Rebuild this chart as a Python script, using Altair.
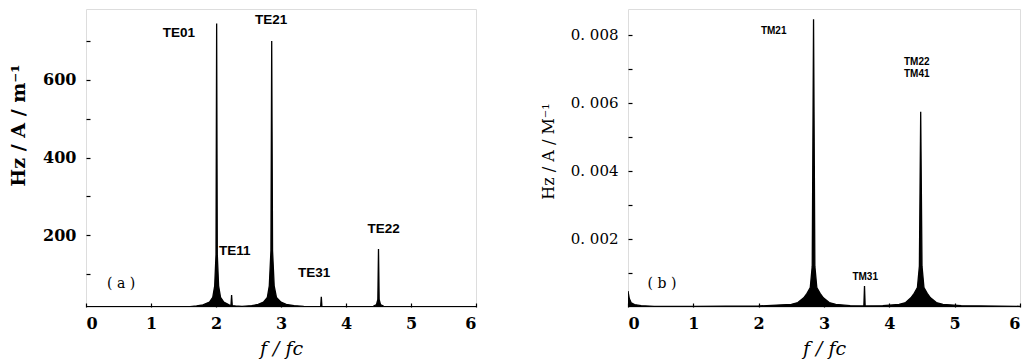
import altair as alt
import pandas as pd

# ---------------- panel (a): TE modes ----------------
a_f = [0.0, 0.8, 1.5, 1.6, 1.7, 1.8, 1.9, 1.95, 1.98, 2.0, 2.01, 2.02, 2.04, 2.07, 2.12,
       2.2, 2.23, 2.24, 2.25, 2.3, 2.4, 2.55, 2.65, 2.73, 2.79, 2.82, 2.845, 2.857,
       2.87, 2.895, 2.93, 3.0, 3.08, 3.2, 3.35, 3.5, 3.61, 3.62, 3.63, 4.0, 4.42,
       4.47, 4.49, 4.50, 4.51, 4.53, 4.58, 5.0, 6.0]
a_hz = [16, 16, 16, 16, 18, 21, 28, 40, 70, 150, 745, 150, 70, 40, 28,
        21, 19, 46, 19, 18, 17, 19, 22, 28, 40, 70, 160, 700,
        160, 70, 40, 28, 22, 19, 17, 16, 16, 42, 16, 16, 17,
        22, 35, 165, 35, 22, 17, 16, 16]

a_lab = ["TE01", "TE21", "TE11", "TE31", "TE22"]
a_lab_f = [1.43, 2.85, 2.29, 3.51, 4.58]
a_lab_hz = [721, 754, 160, 103, 216]

# ---------------- panel (b): TM modes ----------------
b_f = [0.0, 0.02, 0.05, 0.1, 0.2, 0.4, 1.0, 2.0, 2.5, 2.6, 2.69, 2.74, 2.79, 2.82,
       2.84, 2.86, 2.89, 2.94, 2.99, 3.08, 3.18, 3.4, 3.61, 3.62, 3.63, 3.9,
       4.15, 4.25, 4.33, 4.38, 4.43, 4.46, 4.48, 4.50, 4.53, 4.58, 4.63, 4.72,
       4.82, 5.1, 6.0]
b_hz = [0.00047, 0.00025, 0.00012, 0.00007, 0.00004, 0.00002, 0.00002, 0.00003,
        0.00008, 0.00013, 0.00027, 0.0004, 0.00057, 0.0012,
        0.00846, 0.0012, 0.00057, 0.0004, 0.00027, 0.00013, 0.00008, 0.00004,
        0.00003, 0.00062, 0.00003, 0.00004,
        0.00008, 0.00013, 0.00027, 0.0004, 0.00057, 0.0012, 0.00574, 0.0012,
        0.00057, 0.0004, 0.00027, 0.00013, 0.00008, 0.00004, 0.00002]

b_lab = ["TM21", "TM22", "TM41", "TM31"]
b_lab_f = [2.23, 4.42, 4.42, 3.63]
b_lab_hz = [0.00812, 0.00719, 0.00684, 0.00088]

x_ticks = [0, 1, 2, 3, 4, 5, 6]
a_y_ticks = [100, 200, 300, 400, 500, 600, 700]
b_y_ticks = [0.001, 0.002, 0.003, 0.004, 0.005, 0.006, 0.007, 0.008]

SERIF = "DejaVu Serif"
SANS = "Liberation Sans"


def x_axis():
    return alt.Axis(values=x_ticks, format="d", title="f / fc",
                    titleFont=SERIF, titleFontStyle="italic", titleFontWeight="normal",
                    titleFontSize=19, titleColor="black", titlePadding=8,
                    labelFont=SERIF, labelFontWeight="bold", labelFontSize=16,
                    labelColor="black", labelPadding=8,
                    offset=-4, tickSize=4, tickColor="black", tickWidth=1.2,
                    domain=False, grid=False)


def panel(f, hz, lab, lab_f, lab_hz, tag, tag_f, tag_hz, ydom, yticks, ylabexpr,
          ytitle, ytitle_size, ytitle_weight, ylab_size, ylab_weight, ytitle_y,
          ytitle_pad, lab_size, width, height):
    df = pd.DataFrame({"f": f, "hz": hz})
    ldf = pd.DataFrame({"t": lab, "f": lab_f, "hz": lab_hz})
    tdf = pd.DataFrame({"t": [tag], "f": [tag_f], "hz": [tag_hz]})
    xs = alt.Scale(domain=[0, 6], nice=False, zero=False)
    ys = alt.Scale(domain=ydom, nice=False, zero=False)
    yax = alt.Axis(values=yticks, labelExpr=ylabexpr, title=ytitle,
                   titleFont=SERIF, titleFontWeight=ytitle_weight, titleFontSize=ytitle_size,
                   titleColor="black", titleY=ytitle_y, titlePadding=ytitle_pad,
                   labelFont=SERIF, labelFontWeight=ylab_weight, labelFontSize=ylab_size,
                   labelColor="black", labelPadding=10,
                   offset=-4, tickSize=4, tickColor="black", tickWidth=1.2,
                   domain=False, grid=False)
    curve = alt.Chart(df).mark_area(color="black", opacity=1, fillOpacity=1,
                                    line={"color": "black", "strokeWidth": 1.3},
                                    clip=True, interpolate="linear").encode(
        x=alt.X("f:Q", scale=xs, axis=x_axis()),
        y=alt.Y("hz:Q", scale=ys, axis=yax),
    )
    labels = alt.Chart(ldf).mark_text(font=SANS, fontWeight="bold", fontSize=lab_size,
                                      color="black").encode(
        x=alt.X("f:Q", scale=xs), y=alt.Y("hz:Q", scale=ys), text="t:N")
    tagm = alt.Chart(tdf).mark_text(font=SERIF, fontSize=14, color="black").encode(
        x=alt.X("f:Q", scale=xs), y=alt.Y("hz:Q", scale=ys), text="t:N")
    return alt.layer(curve, labels, tagm).properties(width=width, height=height)


pa = panel(a_f, a_hz, a_lab, a_lab_f, a_lab_hz, "( a )", 0.54, 75,
           [15.4, 782.5], a_y_ticks,
           "datum.value % 200 == 0 ? datum.label : ''",
           "Hz / A / m⁻¹", 19, "bold", 16, "bold", 116, 14, 13.5, 390, 298)

pb = panel(b_f, b_hz, b_lab, b_lab_f, b_lab_hz, "( b )", 0.52, 0.00068,
           [0, 0.00876], b_y_ticks,
           "round(datum.value * 1000) % 2 == 0 ? replace(format(datum.value, '.3f'), '.', '. ') : ''",
           "Hz / A / M⁻¹", 16, "normal", 15, "normal", 142, 14, 10, 392, 298)

chart = alt.hconcat(pa, pb, spacing=61).properties(
    padding={"left": 1, "top": 0, "right": 0, "bottom": 0}
).configure_view(stroke="black", strokeWidth=1.5).configure(background="white")

chart.save("out.html", embed_options={"renderer": "svg", "actions": False})
